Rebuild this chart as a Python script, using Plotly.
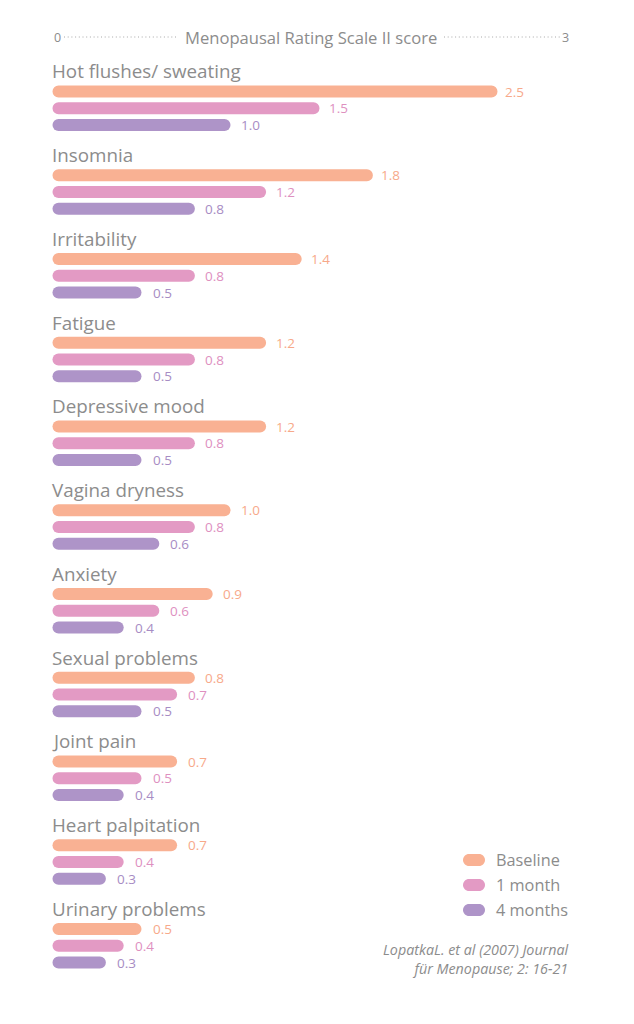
import plotly.graph_objects as go

categories = ["Hot flushes/ sweating", "Insomnia", "Irritability", "Fatigue",
              "Depressive mood", "Vagina dryness", "Anxiety", "Sexual problems",
              "Joint pain", "Heart palpitation", "Urinary problems"]
baseline = [2.5, 1.8, 1.4, 1.2, 1.2, 1.0, 0.9, 0.8, 0.7, 0.7, 0.5]
month1 = [1.5, 1.2, 0.8, 0.8, 0.8, 0.8, 0.6, 0.7, 0.5, 0.4, 0.4]
month4 = [1.0, 0.8, 0.5, 0.5, 0.5, 0.6, 0.4, 0.5, 0.4, 0.3, 0.3]
series_names = ["Baseline", "1 month", "4 months"]
axis_ticks = ["0", "3"]
axis_title = "Menopausal Rating Scale II score"
source = "<i>LopatkaL. et al (2007) Journal<br>für Menopause; 2: 16-21</i>"

colors = ["#F9B193", "#E39AC4", "#AE94C8"]
label_colors = ["#F7A98A", "#DE90BF", "#A78CC4"]
gray = "#8C8C8C"
FONT = "Open Sans"

W, H = 634, 1024
X0_PX = 52.5          # pixel of value 0
PX_PER_UNIT = 178.0   # pixels per score unit
ROW_PX = 16.75        # pixel height of one row
FIRST_PX = 91.5       # pixel of first bar centre
GROUP_ROWS = 5
BAR_PX = 12

fig = go.Figure()
series = [baseline, month1, month4]
for j, (name, vals) in enumerate(zip(series_names, series)):
    ys = [GROUP_ROWS * i + j for i in range(len(categories))]
    # explicit base -> plotly rounds both ends of each (floating) bar
    fig.add_trace(go.Bar(
        x=vals, base=[0] * len(vals), y=ys, orientation="h",
        name=name, width=BAR_PX / ROW_PX,
        marker=dict(color=colors[j], cornerradius=BAR_PX / 2, line=dict(width=0)),
        showlegend=False, hovertemplate="%{x}<extra>" + name + "</extra>",
    ))

annotations = []
# value labels
for j, vals in enumerate(series):
    for i, v in enumerate(vals):
        annotations.append(dict(
            x=v, y=GROUP_ROWS * i + j, xref="x", yref="y", text=f"{v:.1f}",
            showarrow=False, xanchor="left", yanchor="middle",
            xshift=10 - 2 * v,
            font=dict(family=FONT, size=13.5, color=label_colors[j]),
        ))
# category titles
for i, c in enumerate(categories):
    annotations.append(dict(
        x=0, y=GROUP_ROWS * i - 1.2, xref="x", yref="y", text=c,
        showarrow=False, xanchor="left", yanchor="middle", xshift=-3,
        font=dict(family=FONT, size=18.8, color=gray),
    ))

# top axis
AX_Y = 1 - 37 / H
annotations.append(dict(x=57.5 / W, y=AX_Y, xref="paper", yref="paper", text=axis_ticks[0],
                        showarrow=False, xanchor="center", yanchor="middle",
                        font=dict(family=FONT, size=12.5, color=gray)))
annotations.append(dict(x=565.5 / W, y=AX_Y, xref="paper", yref="paper", text=axis_ticks[1],
                        showarrow=False, xanchor="center", yanchor="middle",
                        font=dict(family=FONT, size=12.5, color=gray)))
annotations.append(dict(x=311 / W, y=AX_Y, xref="paper", yref="paper", text=axis_title,
                        showarrow=False, xanchor="center", yanchor="middle",
                        font=dict(family=FONT, size=16.6, color=gray)))

shapes = []
for xa, xb in [(64, 178), (444, 560)]:
    shapes.append(dict(type="line", xref="paper", yref="paper", x0=xa / W, x1=xb / W,
                       y0=AX_Y, y1=AX_Y, line=dict(color="#A8A8A8", width=1, dash="1px,2.7px")))

# legend
r, w = 6, 22
k = 0.5523 * r
pill = (f"M{r},{-r} L{w - r},{-r} C{w - r + k},{-r} {w},{-k} {w},0 "
        f"C{w},{k} {w - r + k},{r} {w - r},{r} L{r},{r} C{r - k},{r} 0,{k} 0,0 "
        f"C0,{-k} {r - k},{-r} {r},{-r} Z")
for j, name in enumerate(series_names):
    ypx = 860 + 25 * j
    shapes.append(dict(type="path", xref="paper", yref="paper", xsizemode="pixel",
                       ysizemode="pixel", xanchor=463 / W, yanchor=1 - ypx / H, path=pill,
                       fillcolor=colors[j], line=dict(width=0)))
    annotations.append(dict(x=494 / W, y=1 - ypx / H, xref="paper", yref="paper", text=name,
                            showarrow=False, xanchor="left", yanchor="middle",
                            font=dict(family=FONT, size=16.3, color=gray)))

annotations.append(dict(x=571 / W, y=1 - 959 / H, xref="paper", yref="paper", text=source,
                        showarrow=False, xanchor="right", yanchor="middle", align="right",
                        font=dict(family=FONT, size=14.3, color=gray)))

fig.update_layout(
    width=W, height=H, margin=dict(l=0, r=0, t=0, b=0), autosize=False,
    paper_bgcolor="white", plot_bgcolor="white", barmode="overlay",
    xaxis=dict(range=[-X0_PX / PX_PER_UNIT, (W - X0_PX) / PX_PER_UNIT], visible=False,
               fixedrange=True),
    yaxis=dict(range=[(H - FIRST_PX) / ROW_PX, -FIRST_PX / ROW_PX], visible=False,
               fixedrange=True),
    annotations=annotations, shapes=shapes, font=dict(family=FONT),
)
fig.write_html("out.html")
